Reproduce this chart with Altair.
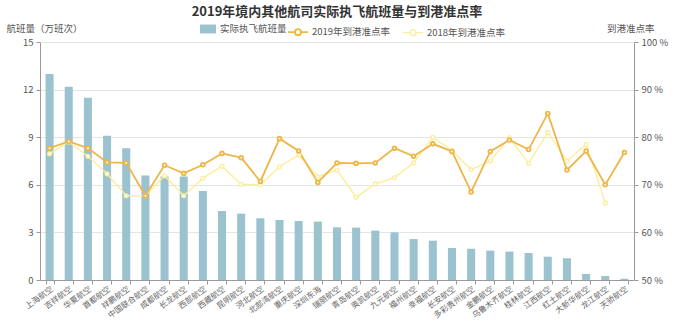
import altair as alt
import pandas as pd

airlines = ["上海航空", "吉祥航空", "华夏航空", "首都航空", "祥鹏航空", "中国联合航空", "成都航空",
            "长龙航空", "西部航空", "西藏航空", "昆明航空", "河北航空", "北部湾航空", "重庆航空",
            "深圳东海", "瑞丽航空", "青岛航空", "奥凯航空", "九元航空", "福州航空", "幸福航空",
            "长安航空", "多彩贵州航空", "金鹏航空", "乌鲁木齐航空", "桂林航空", "江西航空",
            "红土航空", "大新华航空", "龙江航空", "天骄航空"]
flights = [12.98, 12.18, 11.49, 9.09, 8.30, 6.58, 6.53, 6.53, 5.61, 4.35, 4.18, 3.89, 3.78, 3.72,
           3.68, 3.32, 3.30, 3.11, 3.00, 2.58, 2.48, 2.02, 1.97, 1.85, 1.79, 1.70, 1.47, 1.37,
           0.38, 0.25, 0.08]
rate2019 = [77.7, 79.1, 77.7, 74.7, 74.6, 67.7, 74.1, 72.4, 74.2, 76.6, 75.7, 70.7, 79.7, 77.1,
            70.5, 74.6, 74.5, 74.6, 77.7, 76.0, 78.6, 77.0, 68.5, 77.0, 79.4, 77.4, 85.0, 73.1,
            77.1, 70.0, 76.8]
rate2018 = [76.5, 79.0, 76.0, 72.3, 67.7, 67.7, 71.9, 67.7, 71.4, 73.9, 70.1, 70.0, 73.8, 76.3,
            71.7, 73.1, 67.4, 70.2, 71.5, 74.6, 80.0, 77.2, 73.2, 75.0, 79.9, 74.5, 81.0, 75.0,
            78.5, 66.2, None]

BAR_NAME = "实际执飞航班量"
S19 = "2019年到港准点率"
S18 = "2018年到港准点率"

bars_df = pd.DataFrame({"airline": airlines, "flights": flights, "series": BAR_NAME})
lines_df = pd.concat([
    pd.DataFrame({"airline": airlines, "rate": rate2018, "series": S18}),
    pd.DataFrame({"airline": airlines, "rate": rate2019, "series": S19}),
]).dropna()

FONT = "Noto Sans CJK SC"
GREY = "#555555"
AX = "#9a9a9a"

x_enc = alt.X("airline:N", sort=airlines, title=None,
              scale=alt.Scale(paddingInner=0.58, paddingOuter=0.29),
              axis=alt.Axis(labelAngle=-36, tickBand="extent", domainColor=AX, tickColor=AX,
                            tickSize=4, labelFontSize=8, labelColor="#666666", labelFont=FONT,
                            labelPadding=1, grid=False))

bars = alt.Chart(bars_df).mark_bar(color="#9AC2CF").encode(
    x=x_enc,
    y=alt.Y("flights:Q", scale=alt.Scale(domain=[0, 15]),
            axis=alt.Axis(values=[0, 3, 6, 9, 12, 15], grid=True, gridColor="#e4e4e4",
                          domainColor=AX, tickColor=AX, tickSize=4, labelColor=GREY,
                          labelFontSize=9.5, labelFont=FONT, labelPadding=3,
                          title="航班量（万班次）", titleAngle=0, titleAlign="left",
                          titleBaseline="middle", titleX=-34, titleY=-14, titleFontSize=9.5,
                          titleFontWeight="normal", titleColor=GREY, titleFont=FONT)),
    fill=alt.Fill("series:N", scale=alt.Scale(domain=[BAR_NAME], range=["#9AC2CF"]),
                  legend=alt.Legend(title=None, orient="none", legendX=160, legendY=-21,
                                    symbolType="M-1,-0.56H1V0.56H-1Z", symbolSize=256,
                                    symbolStrokeWidth=0, labelFontSize=9.5, labelColor=GREY,
                                    labelFont=FONT, labelOffset=4)),
)

line_path = "M-1,0H-0.3M0.3,0H1M0.3,0A0.3,0.3,0,1,1,-0.3,0A0.3,0.3,0,1,1,0.3,0"
lines = alt.Chart(lines_df).mark_line(
    point=alt.OverlayMarkDef(filled=True, fill="white", size=14, strokeWidth=1)
).encode(
    x=alt.X("airline:N", sort=airlines),
    y=alt.Y("rate:Q", scale=alt.Scale(domain=[50, 100]),
            axis=alt.Axis(orient="right", values=[50, 60, 70, 80, 90, 100], grid=False,
                          labelExpr="datum.value + ' %'", domainColor=AX, tickColor=AX,
                          tickSize=4, labelColor=GREY, labelFontSize=9.5, labelFont=FONT,
                          labelPadding=3, title="到港准点率", titleAngle=0, titleAlign="right",
                          titleBaseline="middle", titleX=20, titleY=-14, titleFontSize=9.5,
                          titleFontWeight="normal", titleColor=GREY, titleFont=FONT)),
    stroke=alt.Stroke("series:N", scale=alt.Scale(domain=[S19, S18], range=["#EDB647", "#FBEE9C"]),
                      legend=alt.Legend(title=None, orient="none", direction="horizontal",
                                        legendX=247, legendY=-21, symbolType=line_path,
                                        symbolSize=400, symbolStrokeWidth=1.5,
                                        symbolFillColor="white", labelFontSize=9.5,
                                        labelColor=GREY, labelFont=FONT, labelOffset=3,
                                        columnPadding=9)),
    strokeWidth=alt.StrokeWidth("series:N", scale=alt.Scale(domain=[S19, S18], range=[1.8, 1.4]),
                                legend=None),
    order=alt.Order("series:N", sort="ascending"),
)

chart = alt.layer(bars, lines).resolve_scale(y="independent", fill="independent").properties(
    width=594, height=238,
    autosize=alt.AutoSizeParams(type="none"),
    padding={"left": 40, "top": 42, "right": 47, "bottom": 42},
    title=alt.TitleParams("2019年境内其他航司实际执飞航班量与到港准点率", fontSize=13,
                          fontWeight="bold", font=FONT, color="#333333", anchor="middle",
                          frame="group", offset=2),
).configure_view(strokeWidth=0)

chart.save("out.html", embed_options={"renderer": "svg", "actions": False})
